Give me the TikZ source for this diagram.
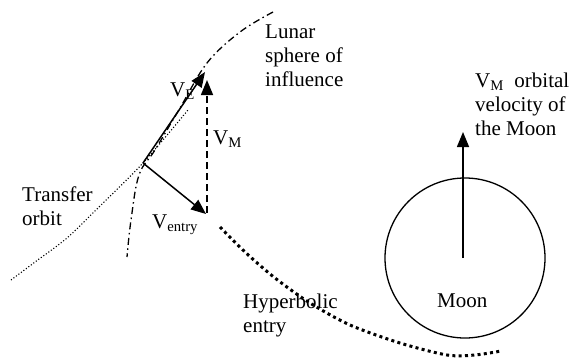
\documentclass[tikz,border=0pt]{standalone}
\usepackage{fontspec}
\setmainfont{Liberation Serif}
\usetikzlibrary{arrows.meta}
\begin{document}
\begin{tikzpicture}[x=1pt,y=-1pt,
  lbl/.style={font=\fontsize{21}{24}\selectfont, inner sep=0pt, align=left, anchor=base west},
  vec/.style={line width=1.5pt, -{Triangle[length=15pt,width=12pt]}},
  soi/.style={line width=1.3pt, dash pattern=on 7pt off 3.5pt on 1.5pt off 3.5pt},
  transfer/.style={line width=1.1pt, dash pattern=on 1.1pt off 2pt},
  hyper/.style={line width=3pt, dash pattern=on 3pt off 3.3pt}]
\useasboundingbox (0,0) rectangle (569,361);
% coordinates
\coordinate (J) at (143,163);
\coordinate (VEtip) at (205,72);
\coordinate (VNtip) at (206,214);
\coordinate (VMtip) at (207,80);
\coordinate (VMbase) at (207,213);
% sphere of influence
\draw[soi] plot[smooth, tension=0.6] coordinates {(273,12) (240,32) (207,63) (180,108) (155,150) (139,175) (131,220) (127,257)};
% transfer orbit
\draw[transfer] plot[smooth] coordinates {(11,280) (35,262) (67,238) (100,206) (143,163) (188,110)};
% hyperbolic entry
\draw[hyper] plot[smooth] coordinates {(220,227) (245,252) (275,278) (310,303) (350,325) (400,343) (447,355) (475,355) (501,351)};
% velocity vectors
\draw[vec] (J) -- (VEtip);
\draw[vec] (J) -- (VNtip);
\draw[vec, dash pattern=on 7pt off 4pt] (VMbase) -- (VMtip);
% Moon
\node[circle, draw, line width=1.3pt, minimum size=160pt, inner sep=0pt] (moon) at (465,258) {};
\coordinate (Mtip) at (463,132);
\draw[vec] (463,258) coordinate (mc) -- (Mtip);
% labels (anchor = baseline of last line)
\node[lbl] (lunar) at (265,86) {Lunar\\sphere of\\influence};
\node[lbl] (transferlbl) at (22,225) {Transfer\\orbit};
\node[lbl] (hyperlbl) at (243,332) {Hyperbolic\\entry};
\node[lbl] (vmorb) at (475,135) {V\textsubscript{M}\ \ orbital\\velocity of\\the Moon};
\node[lbl] (moonlbl) at (437,307) {Moon};
\node[lbl] (velbl) at (170,96) {V\textsubscript{E}};
\node[lbl] (vmlbl) at (213,144) {V\textsubscript{M}};
\node[lbl] (ventrylbl) at (152,228) {V\textsubscript{entry}};
\end{tikzpicture}
\end{document}
